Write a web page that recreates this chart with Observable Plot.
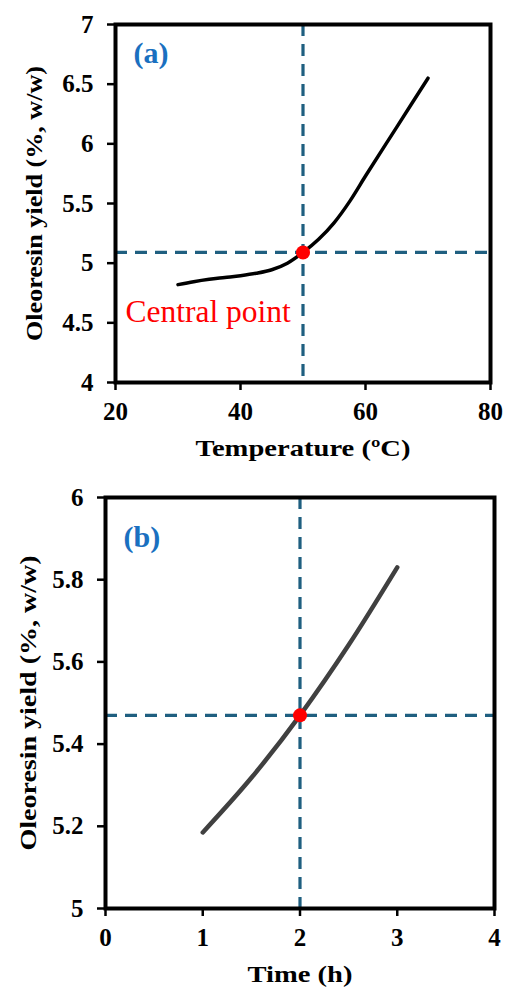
<!DOCTYPE html>
<html>
<head>
<meta charset="utf-8">
<script src="https://cdn.jsdelivr.net/npm/d3@7"></script>
<script src="https://cdn.jsdelivr.net/npm/@observablehq/plot@0.6"></script>
<style>
  html, body { margin: 0; padding: 0; background: #fff; }
  #chart { width: 506px; }
  svg { display: block; }
</style>
</head>
<body>
<div id="chart"></div>
<script>
// ---- Panel (a): temperature effect ----
const tempC = [30, 32.5, 35, 37.5, 40, 42.5, 45, 47.5, 50, 52.5, 55, 57.5, 60, 65, 70];
const yieldA = [4.82, 4.845, 4.865, 4.88, 4.895, 4.915, 4.945, 5.0, 5.09, 5.2, 5.34, 5.52, 5.73, 6.14, 6.55];
const centralA = { x: 50, y: 5.09 };
const xTicksA = [20, 40, 60, 80];
const yTicksA = [4, 4.5, 5, 5.5, 6, 6.5, 7];

// ---- Panel (b): time effect ----
const timeH = [1, 1.5, 2, 2.5, 3];
const yieldB = [5.185, 5.318, 5.47, 5.641, 5.83];
const centralB = { x: 2, y: 5.47 };
const xTicksB = [0, 1, 2, 3, 4];
const yTicksB = [5, 5.2, 5.4, 5.6, 5.8, 6];

const SERIF = "'Liberation Serif', 'Times New Roman', serif";
const DASH = "#1f5f80";
const fmt = d => String(d);

function panel({xs, ys, central, xTicks, yTicks, xDomain, yDomain, height, margins,
                lineColor, lineWidth, tag, tagDy, xTitle, yTitle, yTitleDx, extra}) {
  const data = xs.map((x, i) => ({x, y: ys[i]}));
  return Plot.plot({
    width: 506,
    height,
    ...margins,
    style: { fontFamily: SERIF, background: "#fff", color: "#000" },
    x: { domain: xDomain, ticks: xTicks },
    y: { domain: yDomain, ticks: yTicks },
    marks: [
      Plot.ruleX([central.x], {stroke: DASH, strokeWidth: 3.2, strokeDasharray: "12,8"}),
      Plot.ruleY([central.y], {stroke: DASH, strokeWidth: 3.2, strokeDasharray: "12,8"}),
      Plot.line(data, {x: "x", y: "y", curve: "monotone-x", stroke: lineColor, strokeWidth: lineWidth, strokeLinecap: "round"}),
      Plot.dot([central], {x: "x", y: "y", r: 7, fill: "#ff0000", stroke: "none"}),
      Plot.frame({stroke: "#000", strokeWidth: 4}),
      Plot.axisY(yTicks, {tickSize: 8, tickPadding: 14, strokeWidth: 2.5, tickFormat: fmt,
        fontSize: 25, fontWeight: "bold", fill: "#000", label: null}),
      Plot.axisX(xTicks, {tickSize: 8, tickPadding: 12, strokeWidth: 2.5, tickFormat: fmt,
        fontSize: 25, fontWeight: "bold", fill: "#000", label: null}),
      Plot.text([tag], {frameAnchor: "top-left", dx: 18, dy: tagDy, text: d => d, fontSize: 30,
        fontWeight: "bold", fill: "#1a70c0", textAnchor: "start", lineAnchor: "middle"}),
      Plot.text([xTitle], {frameAnchor: "bottom", dy: 66, text: d => d, fontSize: 23,
        fontWeight: "bold", fill: "#000", textAnchor: "middle", lineAnchor: "middle", className: "xtitle"}),
      Plot.text([yTitle], {frameAnchor: "left", dx: yTitleDx, rotate: -90, text: d => d, fontSize: 24,
        fontWeight: "bold", fill: "#000", textAnchor: "middle", lineAnchor: "middle", className: "ytitle"}),
      ...(extra || [])
    ]
  });
}

const plotA = panel({
  xs: tempC, ys: yieldA, central: centralA, xTicks: xTicksA, yTicks: yTicksA,
  xDomain: [20, 80], yDomain: [4, 7], height: 470,
  margins: {marginLeft: 115, marginRight: 16, marginTop: 24, marginBottom: 88},
  lineColor: "#000", lineWidth: 3.5, tag: "(a)", tagDy: 29,
  xTitle: "Temperature (ºC)", yTitle: "Oleoresin yield (%, w/w)", yTitleDx: -81,
  extra: [
    Plot.text(["Central point"], {frameAnchor: "top-left", dx: 10, dy: 287, text: d => d,
      fontSize: 31.5, fill: "#ff0000", textAnchor: "start", lineAnchor: "middle"})
  ]
});

const plotB = panel({
  xs: timeH, ys: yieldB, central: centralB, xTicks: xTicksB, yTicks: yTicksB,
  xDomain: [0, 4], yDomain: [5, 6], height: 526,
  margins: {marginLeft: 105, marginRight: 12, marginTop: 27, marginBottom: 88},
  lineColor: "#404040", lineWidth: 4.5, tag: "(b)", tagDy: 40,
  xTitle: "Time (h)", yTitle: "Oleoresin yield (%, w/w)", yTitleDx: -77
});

const root = document.getElementById("chart");
root.appendChild(plotA);
root.appendChild(plotB);

// stretch titles to the reference widths
function stretch(svg, cls, len) {
  d3.select(svg).selectAll(`.${cls} text`).attr("textLength", len).attr("lengthAdjust", "spacingAndGlyphs");
}
stretch(plotA, "xtitle", 215);
stretch(plotA, "ytitle", 275);
stretch(plotB, "xtitle", 105);
stretch(plotB, "ytitle", 295);
</script>
</body>
</html>
